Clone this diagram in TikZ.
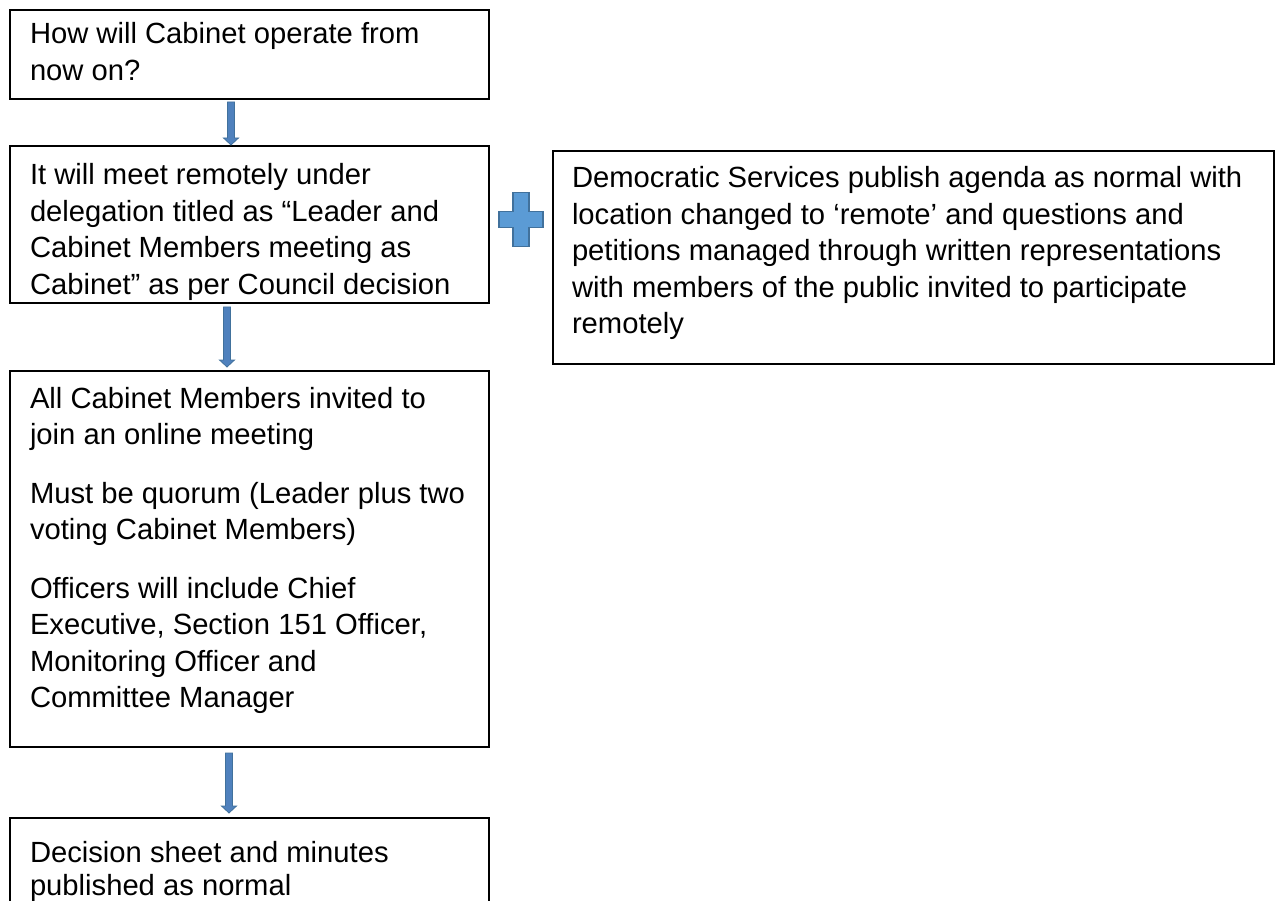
\documentclass[tikz,border=0pt]{standalone}
\usepackage{fontspec}
\setmainfont{Liberation Sans}
\usetikzlibrary{calc}
\definecolor{arrfill}{HTML}{4F81BD}
\definecolor{arrline}{HTML}{41719C}
\definecolor{plusfill}{HTML}{5B9BD5}
\newcommand\blockarr[2]{%
  \filldraw[fill=arrfill,draw=arrline,line width=0.8pt,line join=miter]
    let \p1=(#1), \p2=(#2) in
    (\x1-3.5pt,\y1) -- (\x1+3.5pt,\y1) -- (\x1+3.5pt,\y2+7pt) -- (\x1+7.5pt,\y2+7pt)
    -- (\x1,\y2) -- (\x1-7.5pt,\y2+7pt) -- (\x1-3.5pt,\y2+7pt) -- cycle;}
\newcommand\boxtext[3][36.5pt]{\parbox[t]{#2}{\fontsize{29.2pt}{#1}\selectfont\raggedright #3}}
\begin{document}
\begin{tikzpicture}[x=1pt,y=-1pt,
  box/.style={draw=black,line width=1.8pt,rectangle,inner sep=0pt,outer sep=0pt,anchor=north west},
  txt/.style={inner sep=0pt,outer sep=0pt,anchor=base west}]
\useasboundingbox (0,0) rectangle (1277,901);
\clip (0,0) rectangle (1277,901);
% boxes
\node[box,minimum width=479pt,minimum height=89pt] (b1) at (10,10) {};
\node[box,minimum width=479pt,minimum height=157pt] (b2) at (10,146) {};
\node[box,minimum width=479pt,minimum height=376pt] (b3) at (10,371) {};
\node[box,minimum width=479pt,minimum height=140pt] (b4) at (10,818) {};
\node[box,minimum width=721pt,minimum height=213pt] (br) at (553,151) {};
% texts
\node[txt] (t1) at (30,44) {\boxtext{465pt}{How will Cabinet operate from\\now on?}};
\node[txt] (t2) at (30,185) {\boxtext{465pt}{It will meet remotely under\\delegation titled as “Leader and\\Cabinet Members meeting as\\Cabinet” as per Council decision}};
\node[txt] (t3) at (30,408) {\boxtext{465pt}{All Cabinet Members invited to\\join an online meeting\\[22pt]Must be quorum (Leader plus two\\voting Cabinet Members)\\[22pt]Officers will include Chief\\Executive, Section 151 Officer,\\Monitoring Officer and\\Committee Manager}};
\node[txt] (t4) at (30,862) {\boxtext[33pt]{465pt}{Decision sheet and minutes\\published as normal}};
\node[txt] (tr) at (572,188) {\boxtext{700pt}{Democratic Services publish agenda as normal with\\location changed to ‘remote’ and questions and\\petitions managed through written representations\\with members of the public invited to participate\\remotely}};
% arrows
\coordinate (a1s) at ($(b1.south west)+(221,3)$);
\coordinate (a1e) at ($(b2.north west)+(221,-1)$);
\coordinate (a2s) at ($(b2.south west)+(217,4)$);
\coordinate (a2e) at ($(b3.north west)+(217,-4)$);
\coordinate (a3s) at ($(b3.south west)+(219,6)$);
\coordinate (a3e) at ($(b4.north west)+(219,-5)$);
\blockarr{a1s}{a1e}
\blockarr{a2s}{a2e}
\blockarr{a3s}{a3e}
% plus sign
\coordinate (pc) at ($(b2.east)!0.5!(br.west |- b2.east)+(0,-5)$);
\filldraw[fill=plusfill,draw=arrline,line width=1.5pt]
  ($(pc)+(-8,-27)$) -- ($(pc)+(8,-27)$) -- ($(pc)+(8,-8)$) -- ($(pc)+(22,-8)$)
  -- ($(pc)+(22,8)$) -- ($(pc)+(8,8)$) -- ($(pc)+(8,27)$) -- ($(pc)+(-8,27)$)
  -- ($(pc)+(-8,8)$) -- ($(pc)+(-22,8)$) -- ($(pc)+(-22,-8)$) -- ($(pc)+(-8,-8)$) -- cycle;
\end{tikzpicture}
\end{document}
